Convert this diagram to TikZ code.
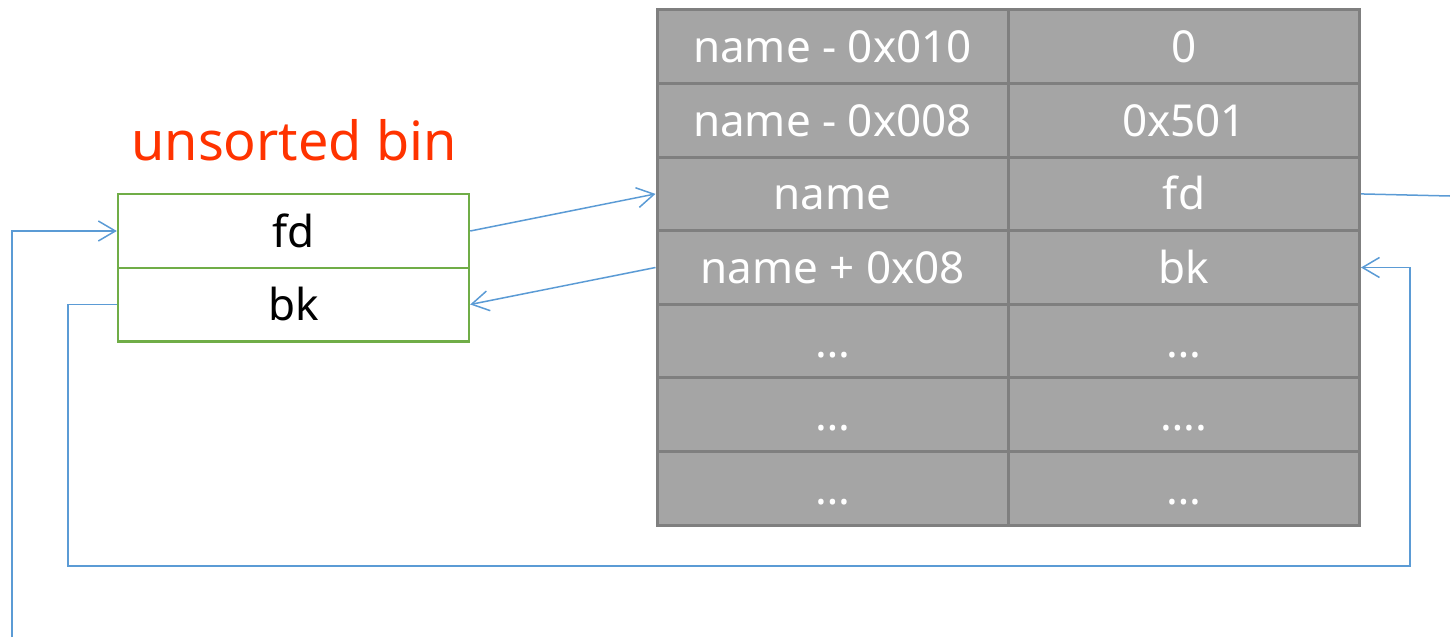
\documentclass[tikz,border=0pt]{standalone}
\usepackage{fontspec}
\setmainfont{Noto Sans}
\usepackage{xcolor}
\usetikzlibrary{arrows.meta, positioning}

\definecolor{cellgray}{HTML}{A5A5A5}
\definecolor{cellline}{HTML}{7F7F7F}
\definecolor{bingreen}{HTML}{70AD47}
\definecolor{linkblue}{HTML}{5B9BD5}
\definecolor{titlered}{HTML}{FF3300}

\begin{document}
\begin{tikzpicture}[x=0.5pt, y=-0.5pt, >={Straight Barb[length=8.5pt, width=10pt]},
    cell/.style={draw=cellline, fill=cellgray, line width=1.5pt, text=white,
        minimum width=175.5pt, minimum height=36.8pt, inner sep=0pt,
        text height=17pt, text depth=1pt, font=\fontsize{22}{26}\selectfont},
    binbox/.style={draw=bingreen, line width=1.2pt, text=black,
        minimum width=175.5pt, minimum height=36.8pt, inner sep=0pt,
        text height=17pt, text depth=1pt, font=\fontsize{22}{26}\selectfont},
    link/.style={draw=linkblue, line width=0.75pt}]

    % 1. 画布大小
    \useasboundingbox (0,0) rectangle (1450,637);

    % 2. 标题
    \node[text=titlered, font=\fontsize{27}{32}\selectfont] (title) at (294,140) {unsorted bin};

    % 3. unsorted bin 的两个指针
    \node[binbox] (gfd) at (293.5,231) {fd};
    \node[binbox] (gbk) at (293.5,304.5) {bk};

    % 4. chunk 表格 (两列七行)
    \foreach \r/\lname/\rname in {1/name - 0x010/0, 2/name - 0x008/0x501, 3/name/fd,
        4/name + 0x08/bk, 5/…/…, 6/…/…., 7/…/…} {
        \node[cell] (c\r1) at (832.5,{10+73.57*(\r-0.5)}) {\lname};
        \node[cell] (c\r2) at (1184,{10+73.57*(\r-0.5)}) {\rname};
    }

    % 5. 链接
    \coordinate (offright) at (1450,196);
    \coordinate (offbottom) at (12,637);
    \coordinate (lowleft) at (68,566);
    \coordinate (lowright) at (1410,566);

    \draw[link, ->] (gfd.east) -- (c31.west);
    \draw[link, ->] (c41.west) -- (gbk.east);
    \draw[link] (c32.east) -- (offright);
    \draw[link, ->] (offbottom) |- (gfd.west);
    \draw[link, ->] (gbk.west) -| (lowleft) -- (lowright) |- (c42.east);

\end{tikzpicture}
\end{document}
